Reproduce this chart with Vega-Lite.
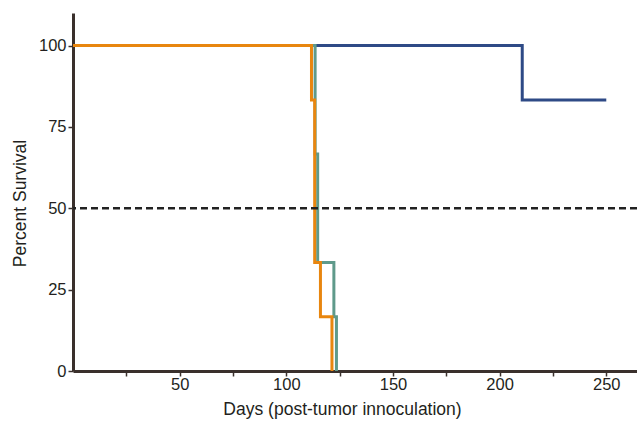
{
  "$schema": "https://vega.github.io/schema/vega-lite/v6.json",
  "width": 564,
  "height": 358,
  "autosize": {"type": "none"},
  "padding": {"left": 73, "top": 13, "right": 0, "bottom": 51},
  "background": "white",
  "config": {
    "view": {"stroke": null},
    "font": "Liberation Sans",
    "axis": {
      "grid": false,
      "domainColor": "#3a302c",
      "domainWidth": 3,
      "tickColor": "#3a302c",
      "tickWidth": 1.5,
      "tickSize": 5,
      "labelFont": "Liberation Sans",
      "labelFontSize": 16.5,
      "labelColor": "#231f20",
      "titleFont": "Liberation Sans",
      "titleFontSize": 17.5,
      "titleFontWeight": "normal",
      "titleColor": "#231f20"
    }
  },
  "datasets": {
    "curves": [
      {"group": "A", "day": 0, "survival": 100},
      {"group": "A", "day": 210.6, "survival": 83.3},
      {"group": "A", "day": 250, "survival": 83.3},
      {"group": "B", "day": 0, "survival": 100},
      {"group": "B", "day": 113.5, "survival": 66.7},
      {"group": "B", "day": 114.7, "survival": 33.3},
      {"group": "B", "day": 122.3, "survival": 16.7},
      {"group": "B", "day": 123.5, "survival": 0},
      {"group": "C", "day": 0, "survival": 100},
      {"group": "C", "day": 111.8, "survival": 83.3},
      {"group": "C", "day": 113.3, "survival": 33.3},
      {"group": "C", "day": 116, "survival": 16.7},
      {"group": "C", "day": 121.4, "survival": 0}
    ],
    "reference": [
      {"level": 50}
    ]
  },
  "layer": [
    {
      "data": {"name": "curves"},
      "mark": {"type": "line", "interpolate": "step-after", "strokeWidth": 3, "clip": true},
      "encoding": {
        "x": {
          "field": "day", "type": "quantitative",
          "scale": {"domain": [0, 264.4], "nice": false},
          "axis": {
            "title": "Days (post-tumor innoculation)",
            "values": [25, 50, 75, 100, 125, 150, 175, 200, 225, 250],
            "labelExpr": "datum.value % 50 === 0 ? datum.label : ''",
            "labelPadding": 0,
            "titlePadding": 8,
            "titleX": 269
          }
        },
        "y": {
          "field": "survival", "type": "quantitative",
          "scale": {"domain": [0, 110], "nice": false},
          "axis": {
            "title": "Percent Survival",
            "values": [0, 25, 50, 75, 100],
            "labelPadding": 2,
            "titlePadding": 9,
            "titleY": 190
          }
        },
        "color": {
          "field": "group", "type": "nominal",
          "scale": {"domain": ["A", "B", "C"], "range": ["#2e4a86", "#5f9a8b", "#e8860f"]},
          "legend": null
        },
        "order": {"field": "group"}
      }
    },
    {
      "data": {"name": "reference"},
      "mark": {"type": "rule", "strokeDash": [7, 4], "strokeWidth": 2.3, "color": "#222222"},
      "encoding": {"y": {"field": "level", "type": "quantitative"}}
    }
  ]
}
